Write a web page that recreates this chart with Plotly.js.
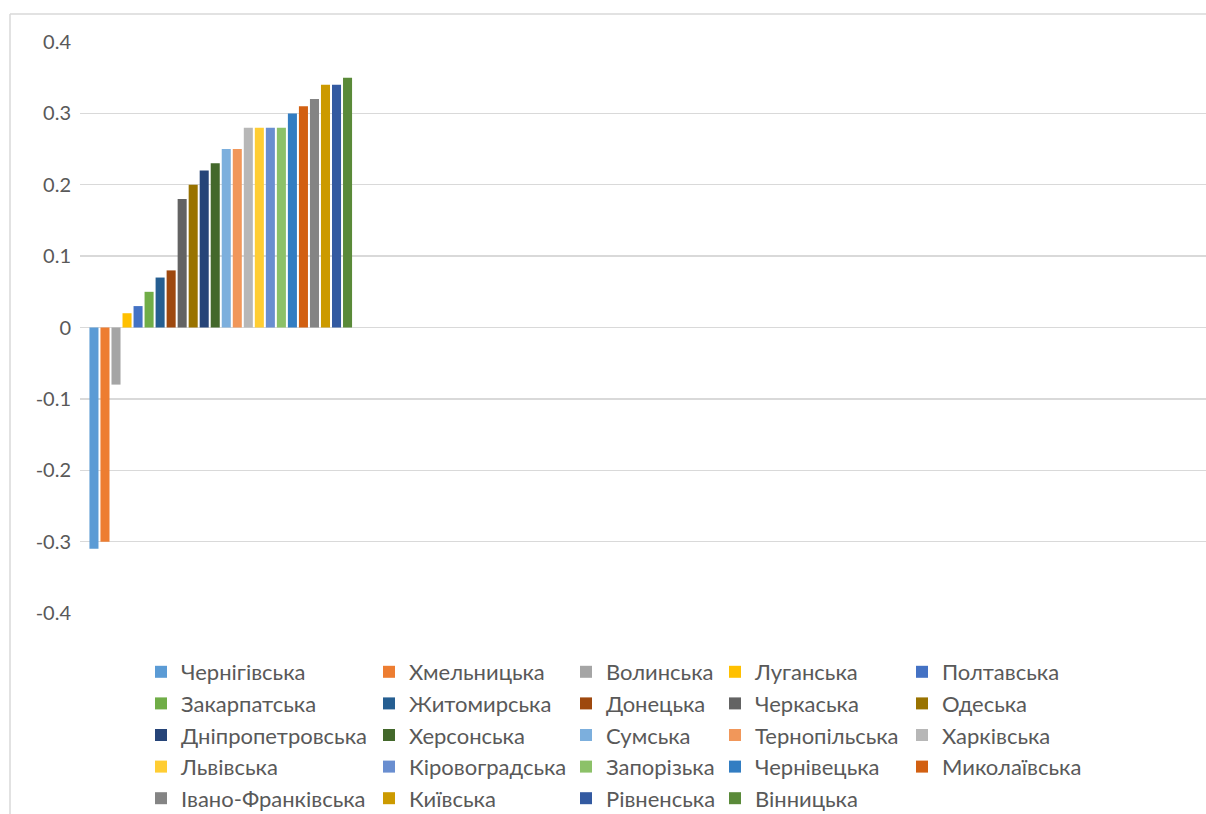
<!DOCTYPE html>
<html>
<head>
<meta charset="utf-8">
<script src="https://cdn.plot.ly/plotly-3.0.1.min.js"></script>
<style>
  html, body { margin: 0; padding: 0; background: #fff; }
  #chart { width: 1206px; height: 814px; }
</style>
</head>
<body>
<div id="chart"></div>
<script>
// Regions (series), in plotting order
const regions = [
  'Чернігівська', 'Хмельницька', 'Волинська', 'Луганська', 'Полтавська',
  'Закарпатська', 'Житомирська', 'Донецька', 'Черкаська', 'Одеська',
  'Дніпропетровська', 'Херсонська', 'Сумська', 'Тернопільська', 'Харківська',
  'Львівська', 'Кіровоградська', 'Запорізька', 'Чернівецька', 'Миколаївська',
  'Івано-Франківська', 'Київська', 'Рівненська', 'Вінницька'
];
// Values
const values = [
  -0.31, -0.30, -0.08, 0.02, 0.03,
  0.05, 0.07, 0.08, 0.18, 0.20,
  0.22, 0.23, 0.25, 0.25, 0.28,
  0.28, 0.28, 0.28, 0.30, 0.31,
  0.32, 0.34, 0.34, 0.35
];
const colors = [
  '#5B9BD5', '#ED7D31', '#A5A5A5', '#FFC000', '#4472C4',
  '#70AD47', '#255E91', '#9E480E', '#636363', '#997300',
  '#264478', '#43682B', '#7CAFDD', '#F1975A', '#B7B7B7',
  '#FFCD33', '#698ED0', '#8CC168', '#327DC2', '#D26012',
  '#848484', '#CC9A00', '#335AA1', '#5A8A39'
];
// Single category slot (the axis holds 4 slots, only the first is filled)
const categoryPos = [0];
const yTicks = [-0.4, -0.3, -0.2, -0.1, 0, 0.1, 0.2, 0.3, 0.4];
const yTickText = ['-0.4', '-0.3', '-0.2', '-0.1', '0', '0.1', '0.2', '0.3', '0.4'];

// Layout geometry helpers (pixels -> paper)
const W = 1206, H = 814;
const mL = 80, mR = 0, mT = 42, mB = 201;
const pw = W - mL - mR, ph = H - mT - mB;
const px2x = p => (p - mL) / pw;
const py2y = p => (H - mB - p) / ph;

const FONT = 'Lato, "Open Sans", sans-serif';
const TXT = '#595959';
const GRID = '#D9D9D9';

const nCols = 5;
const colLeft = [141, 369, 566, 715, 902];

const traces = regions.map((name, i) => {
  const col = i % nCols;
  return {
    type: 'bar',
    name: name,
    x: categoryPos,
    y: [values[i]],
    marker: { color: colors[i], line: { width: 0 } },
    legend: col === 0 ? 'legend' : 'legend' + (col + 1),
    hoverinfo: 'skip'
  };
});

const layout = {
  width: W, height: H,
  margin: { l: mL, r: mR, t: mT, b: mB, pad: 0, autoexpand: false },
  paper_bgcolor: '#ffffff',
  plot_bgcolor: '#ffffff',
  font: { family: FONT, color: TXT, size: 19 },
  barmode: 'group',
  bargap: 0.06,
  bargroupgap: 0.18,
  showlegend: true,
  xaxis: {
    range: [-0.5, 3.5],
    showgrid: false, zeroline: false, showline: false,
    showticklabels: false, ticks: '', fixedrange: true, automargin: false
  },
  yaxis: {
    range: [-0.4, 0.4],
    tickmode: 'array', tickvals: yTicks, ticktext: yTickText,
    showgrid: true, gridcolor: GRID, gridwidth: 1.3,
    zeroline: true, zerolinecolor: GRID, zerolinewidth: 1.3,
    showline: false, ticks: '', ticklabelstandoff: 8,
    tickfont: { family: FONT, size: 20, color: TXT },
    fixedrange: true, automargin: false
  },
  shapes: [
    { type: 'line', xref: 'paper', yref: 'paper',
      x0: px2x(10), x1: px2x(10), y0: py2y(14), y1: py2y(H + 5),
      line: { color: GRID, width: 1.5 } },
    { type: 'line', xref: 'paper', yref: 'paper',
      x0: px2x(10), x1: px2x(W + 5), y0: py2y(14), y1: py2y(14),
      line: { color: GRID, width: 1.5 } }
  ]
};

for (let c = 0; c < nCols; c++) {
  const key = c === 0 ? 'legend' : 'legend' + (c + 1);
  layout[key] = {
    orientation: 'v',
    x: px2x(colLeft[c]), xanchor: 'left',
    y: py2y(651), yanchor: 'top',
    bgcolor: 'rgba(0,0,0,0)',
    borderwidth: 0,
    tracegroupgap: 0,
    traceorder: 'normal',
    font: { family: FONT, size: 22, color: TXT },
    itemclick: false, itemdoubleclick: false
  };
}

Plotly.newPlot('chart', traces, layout, { displayModeBar: false, staticPlot: true });
</script>
</body>
</html>
